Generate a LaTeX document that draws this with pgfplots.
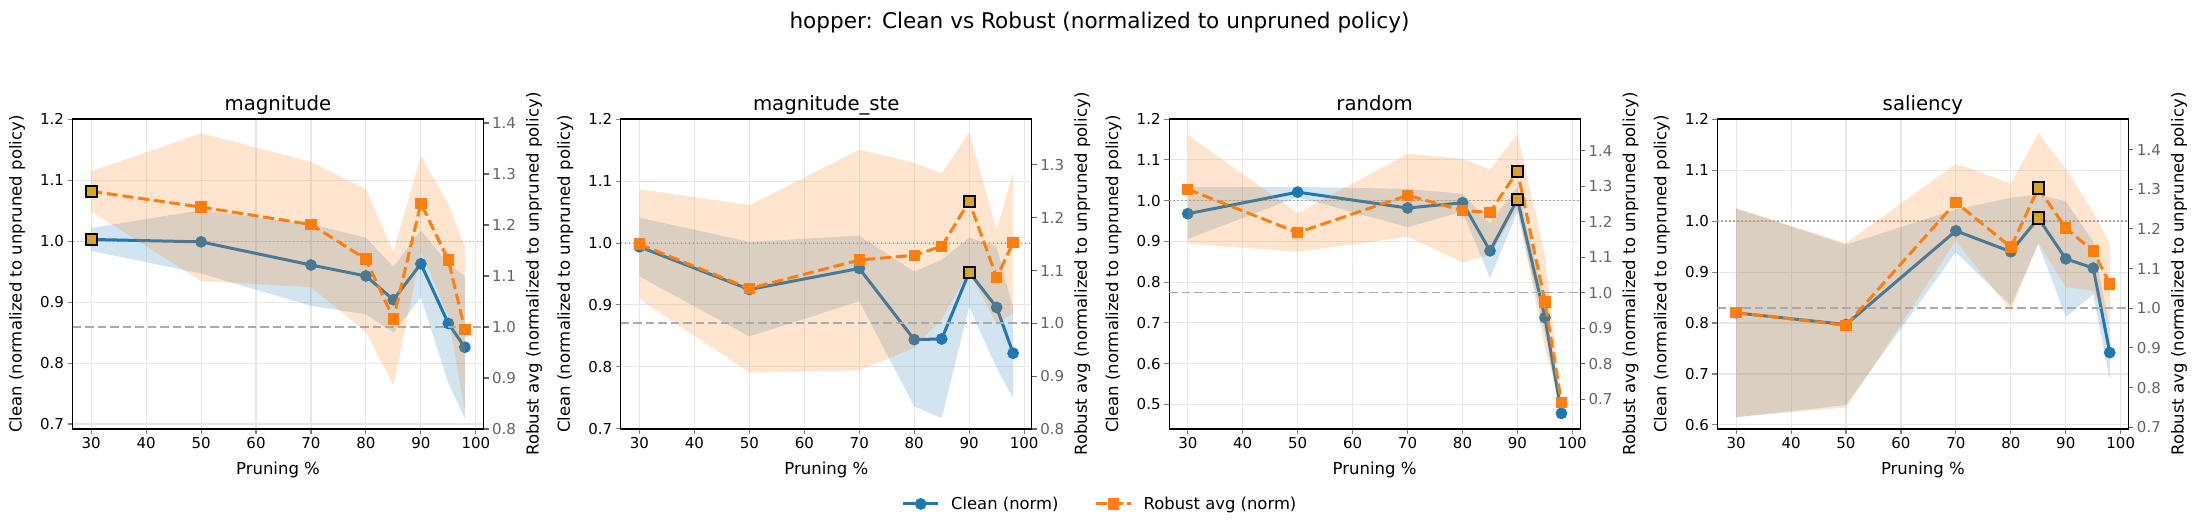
\documentclass[border=0pt]{standalone}
\usepackage{fontspec}
\setmainfont{DejaVu Sans}
\usepackage{pgfplots}
\pgfplotsset{compat=1.18}

\definecolor{cleanc}{HTML}{1F77B4}
\definecolor{robc}{HTML}{FF7F0E}
\definecolor{goldc}{HTML}{DAA520}
\definecolor{refc}{RGB}{170,170,170}
\definecolor{gridc}{RGB}{232,232,232}
\definecolor{rtick}{RGB}{100,100,100}

\newcommand{\labfont}{\fontsize{16.5}{19}\selectfont}

\pgfplotsset{
  panel/.style={scale only axis, width=411pt, height=310pt,
    xmin=26.6, xmax=101.4,
    /pgf/number format/assume math mode=true,
    ticklabel style={font=\fontsize{15}{18}\selectfont},
    tick align=outside, major tick length=5pt,
    tick style={line width=1.1pt},
    axis line style={line width=1.2pt},
    yticklabel style={/pgf/number format/fixed, /pgf/number format/fixed zerofill,
      /pgf/number format/precision=1},
  },
  lpanel/.style={panel, xtick={30,40,...,100}, tick pos=left,
    grid=major, grid style={gridc, line width=1.1pt},
    xlabel={Pruning \%}, ylabel={Clean (normalized to unpruned policy)},
    every axis y label/.style={at={(axis description cs:-0.135,0.5)}, rotate=90, anchor=center,
      font=\labfont},
    every axis x label/.style={at={(axis description cs:0.5,0)}, anchor=base, yshift=-45.5pt,
      font=\labfont},
    every axis title/.style={at={(axis description cs:0.5,1)}, anchor=base, yshift=8.3pt,
      font=\fontsize{19.7}{22}\selectfont},
  },
  rpanel/.style={panel, axis x line=none, axis y line*=right, ytick align=outside,
    ylabel={Robust avg (normalized to unpruned policy)},
    every axis y label/.style={at={(axis description cs:1.123,0.5)}, rotate=90, anchor=center,
      font=\labfont},
    yticklabel style={text=rtick}, ytick style={rtick, line width=1.1pt},
  },
  over/.style={panel, hide axis},
  cband/.style={draw=none, fill=cleanc, fill opacity=0.2, forget plot},
  rband/.style={draw=none, fill=robc, fill opacity=0.2, forget plot},
  cline/.style={cleanc, line width=3pt, mark=*, mark size=4.3pt, mark options={solid}},
  rline/.style={robc, line width=3pt, dash pattern=on 11pt off 4.8pt, mark=square*,
    mark size=4.2pt, mark options={solid}},
  best/.style={only marks, mark=square*, mark size=5.6pt,
    mark options={fill=goldc, draw=black, line width=2pt}, forget plot},
  lref/.style={refc, line width=1.5pt, dash pattern=on 1.5pt off 2.5pt, forget plot},
  rref/.style={refc, line width=1.8pt, dash pattern=on 8.5pt off 4pt, forget plot},
}

\begin{document}
\begin{tikzpicture}
\useasboundingbox (0,0) rectangle (2199pt,531pt);

% ---------------- magnitude ----------------
\begin{axis}[lpanel, at={(72.5pt,102pt)}, anchor=south west,
  ymin=0.6918, ymax=1.2007, ytick={0.7,0.8,0.9,1.0,1.1,1.2}, title={magnitude}]
  \addplot[cband] coordinates {(30,1.022) (50,1.051) (70,1.028) (80,1.006) (85,0.958) (90,1.018) (95,0.963) (98,0.943)
    (98,0.709) (95,0.767) (90,0.908) (85,0.850) (80,0.880) (70,0.894) (50,0.947) (30,0.984)};
  \addplot[lref] coordinates {(26.6,1) (101.4,1)};
  \addplot[cline] coordinates {(30,1.003) (50,0.999) (70,0.961) (80,0.943) (85,0.904) (90,0.963) (95,0.865) (98,0.826)};
\end{axis}
\begin{axis}[rpanel, at={(72.5pt,102pt)}, anchor=south west,
  ymin=0.8, ymax=1.4078, ytick={0.8,0.9,1.0,1.1,1.2,1.3,1.4}]
  \addplot[rband] coordinates {(30,1.305) (50,1.380) (70,1.324) (80,1.270) (85,1.147) (90,1.336) (95,1.241) (98,1.157)
    (98,0.833) (95,1.021) (90,1.147) (85,0.885) (80,0.990) (70,1.078) (50,1.090) (30,1.227)};
  \addplot[rref] coordinates {(26.6,1) (101.4,1)};
  \addplot[rline] coordinates {(30,1.266) (50,1.235) (70,1.201) (80,1.133) (85,1.016) (90,1.242) (95,1.131) (98,0.995)};
  \addplot[best] coordinates {(30,1.266)};
\end{axis}
\begin{axis}[over, at={(72.5pt,102pt)}, anchor=south west, ymin=0.6918, ymax=1.2007,
  legend columns=2,
  legend style={at={(2.4976,-0.2419)}, anchor=center, draw=none, fill=none,
    font=\fontsize{16.4}{19}\selectfont, nodes={inner sep=0pt},
    /tikz/every odd column/.append style={column sep=11.4pt},
    /tikz/every even column/.append style={column sep=35.7pt}},
  legend image code/.code={\draw[mark repeat=2, mark phase=2, #1] plot coordinates {(0pt,0pt) (17.5pt,0pt) (35pt,0pt)};}]
  \addplot[best] coordinates {(30,1.003)};
  \addlegendimage{cline}
  \addlegendentry{Clean (norm)}
  \addlegendimage{rline}
  \addlegendentry{Robust avg (norm)}
\end{axis}

% ---------------- magnitude_ste ----------------
\begin{axis}[lpanel, at={(620.8pt,102pt)}, anchor=south west,
  ymin=0.6995, ymax=1.2005, ytick={0.7,0.8,0.9,1.0,1.1,1.2}, title={magnitude\_ste}]
  \addplot[cband] coordinates {(30,1.041) (50,1.002) (70,1.012) (80,0.954) (85,0.973) (90,1.009) (95,0.994) (98,0.895)
    (98,0.749) (95,0.798) (90,0.897) (85,0.717) (80,0.736) (70,0.906) (50,0.849) (30,0.946)};
  \addplot[lref] coordinates {(26.6,1) (101.4,1)};
  \addplot[cline] coordinates {(30,0.994) (50,0.925) (70,0.959) (80,0.844) (85,0.845) (90,0.953) (95,0.896) (98,0.822)};
\end{axis}
\begin{axis}[rpanel, at={(620.8pt,102pt)}, anchor=south west,
  ymin=0.8, ymax=1.387, ytick={0.8,0.9,1.0,1.1,1.2,1.3}]
  \addplot[rband] coordinates {(30,1.254) (50,1.224) (70,1.329) (80,1.304) (85,1.284) (90,1.362) (95,1.177) (98,1.286)
    (98,1.020) (95,0.998) (90,1.099) (85,1.008) (80,0.954) (70,0.911) (50,0.907) (30,1.046)};
  \addplot[rref] coordinates {(26.6,1) (101.4,1)};
  \addplot[rline] coordinates {(30,1.150) (50,1.066) (70,1.120) (80,1.129) (85,1.146) (90,1.231) (95,1.087) (98,1.153)};
  \addplot[best] coordinates {(90,1.231)};
\end{axis}
\begin{axis}[over, at={(620.8pt,102pt)}, anchor=south west, ymin=0.6995, ymax=1.2005]
  \addplot[best] coordinates {(90,0.953)};
\end{axis}

% ---------------- random ----------------
\begin{axis}[lpanel, at={(1169.1pt,102pt)}, anchor=south west,
  ymin=0.4396, ymax=1.2005, ytick={0.5,0.6,0.7,0.8,0.9,1.0,1.1,1.2}, title={random}]
  \addplot[cband] coordinates {(30,1.033) (50,1.034) (70,1.029) (80,1.017) (85,0.945) (90,1.033) (95,0.753) (98,0.488)
    (98,0.468) (95,0.673) (90,0.973) (85,0.809) (80,0.973) (70,0.935) (50,1.009) (30,0.906)};
  \addplot[lref] coordinates {(26.6,1) (101.4,1)};
  \addplot[cline] coordinates {(30,0.968) (50,1.021) (70,0.982) (80,0.995) (85,0.877) (90,1.003) (95,0.713) (98,0.478)};
\end{axis}
\begin{axis}[rpanel, at={(1169.1pt,102pt)}, anchor=south west,
  ymin=0.6157, ymax=1.489, ytick={0.7,0.8,0.9,1.0,1.1,1.2,1.3,1.4}]
  \addplot[rband] coordinates {(30,1.444) (50,1.224) (70,1.391) (80,1.377) (85,1.346) (90,1.447) (95,1.105) (98,0.700)
    (98,0.680) (95,0.843) (90,1.237) (85,1.106) (80,1.085) (70,1.157) (50,1.115) (30,1.138)};
  \addplot[rref] coordinates {(26.6,1) (101.4,1)};
  \addplot[rline] coordinates {(30,1.291) (50,1.169) (70,1.274) (80,1.231) (85,1.226) (90,1.342) (95,0.974) (98,0.690)};
  \addplot[best] coordinates {(90,1.342)};
\end{axis}
\begin{axis}[over, at={(1169.1pt,102pt)}, anchor=south west, ymin=0.4396, ymax=1.2005]
  \addplot[best] coordinates {(90,1.003)};
\end{axis}

% ---------------- saliency ----------------
\begin{axis}[lpanel, at={(1717.4pt,102pt)}, anchor=south west,
  ymin=0.592, ymax=1.2005, ytick={0.6,0.7,0.8,0.9,1.0,1.1,1.2}, title={saliency}]
  \addplot[cband] coordinates {(30,1.025) (50,0.954) (70,1.023) (80,1.046) (85,1.052) (90,1.039) (95,0.960) (98,0.790)
    (98,0.690) (95,0.856) (90,0.812) (85,0.955) (80,0.834) (70,0.939) (50,0.639) (30,0.615)};
  \addplot[lref] coordinates {(26.6,1) (101.4,1)};
  \addplot[cline] coordinates {(30,0.820) (50,0.797) (70,0.981) (80,0.940) (85,1.006) (90,0.926) (95,0.908) (98,0.742)};
\end{axis}
\begin{axis}[rpanel, at={(1717.4pt,102pt)}, anchor=south west,
  ymin=0.6957, ymax=1.477, ytick={0.7,0.8,0.9,1.0,1.1,1.2,1.3,1.4}]
  \addplot[rband] coordinates {(30,1.252) (50,1.164) (70,1.364) (80,1.315) (85,1.441) (90,1.351) (95,1.242) (98,1.163)
    (98,0.958) (95,1.045) (90,1.053) (85,1.165) (80,0.993) (70,1.170) (50,0.750) (30,0.726)};
  \addplot[rref] coordinates {(26.6,1) (101.4,1)};
  \addplot[rline] coordinates {(30,0.989) (50,0.957) (70,1.267) (80,1.154) (85,1.303) (90,1.202) (95,1.144) (98,1.061)};
  \addplot[best] coordinates {(85,1.303)};
\end{axis}
\begin{axis}[over, at={(1717.4pt,102pt)}, anchor=south west, ymin=0.592, ymax=1.2005]
  \addplot[best] coordinates {(85,1.006)};
\end{axis}

\node[anchor=base, font=\fontsize{21.6}{25}\selectfont] at (1099.5pt,502pt)
  {hopper: Clean vs Robust (normalized to unpruned policy)};
\end{tikzpicture}
\end{document}
